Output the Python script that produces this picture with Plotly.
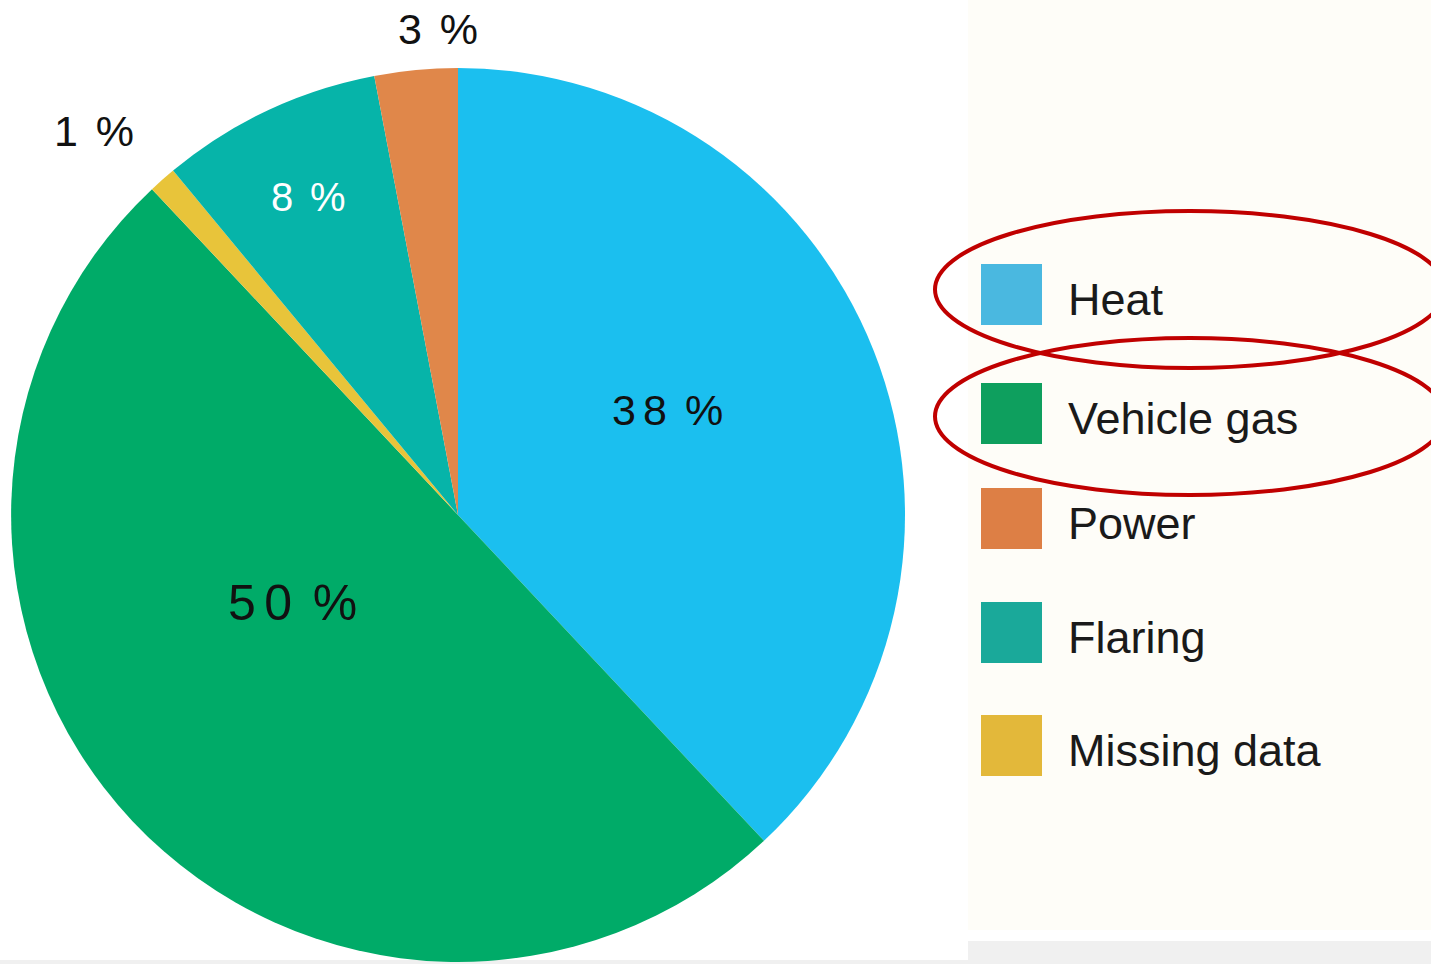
import plotly.graph_objects as go

# slice order (clockwise from 12 o'clock)
slice_labels = ['Heat', 'Vehicle gas', 'Missing data', 'Flaring', 'Power']
slice_values = [38, 50, 1, 8, 3]
slice_colors = ['#1BBFEF', '#00AB68', '#E8C43A', '#06B4A9', '#E0874A']

# legend order as shown in the picture
legend_labels = ['Heat', 'Vehicle gas', 'Power', 'Flaring', 'Missing data']
legend_colors = ['#4AB8E0', '#0E9F5E', '#DD7F45', '#1AA99A', '#E3B83A']

W, H = 1431, 964
FONT = 'Arial, Liberation Sans, sans-serif'

# where each slice's percentage label sits (pixels), its size and colour
label_pos = [(667, 410), (292, 603), (94, 131), (308, 197), (438, 29)]
label_size = [43, 50, 43, 40, 43]
label_color = ['#111111', '#111111', '#111111', '#FFFFFF', '#111111']


def px_x(x):
    return x / W


def px_y(y):
    return 1 - y / H


def pct_text(v):
    # the source uses a loosely spaced "38 %" style
    return '\u2006'.join(str(v)) + '\u2005\u2006%'


fig = go.Figure()

fig.add_trace(go.Pie(
    labels=slice_labels,
    values=slice_values,
    textinfo='none',
    marker=dict(colors=slice_colors, line=dict(width=0)),
    sort=False,
    direction='clockwise',
    rotation=0,
    showlegend=False,
    hoverinfo='label+percent',
    domain=dict(x=[px_x(11), px_x(905)], y=[px_y(962), px_y(68)]),
))

shapes = [
    # light background of the legend panel
    dict(type='rect', xref='paper', yref='paper', layer='below',
         x0=px_x(968), x1=1, y0=px_y(930), y1=1,
         fillcolor='#FEFDF8', line=dict(width=0)),
    dict(type='rect', xref='paper', yref='paper', layer='below',
         x0=px_x(968), x1=1, y0=0, y1=px_y(941),
         fillcolor='#F0F0F0', line=dict(width=0)),
    dict(type='rect', xref='paper', yref='paper', layer='below',
         x0=0, x1=px_x(968), y0=0, y1=px_y(960),
         fillcolor='#F0F0F0', line=dict(width=0)),
]
annotations = []

for v, (x, y), sz, col in zip(slice_values, label_pos, label_size, label_color):
    annotations.append(dict(xref='paper', yref='paper', x=px_x(x), y=px_y(y),
                            xanchor='center', yanchor='middle', showarrow=False,
                            text=pct_text(v),
                            font=dict(family=FONT, size=sz, color=col)))

row_tops = [264, 383, 488, 602, 715]
box = 61
for lab, col, top in zip(legend_labels, legend_colors, row_tops):
    shapes.append(dict(type='rect', xref='paper', yref='paper',
                       x0=px_x(981), x1=px_x(981 + box),
                       y0=px_y(top + box), y1=px_y(top),
                       fillcolor=col, line=dict(width=0)))
    annotations.append(dict(xref='paper', yref='paper',
                            x=px_x(1066), y=px_y(top + box / 2 + 5),
                            xanchor='left', yanchor='middle', showarrow=False,
                            text=lab,
                            font=dict(family=FONT, size=45, color='#1A1A1A')))

# red highlight ellipses around Heat and Vehicle gas
for top, bottom in [(211, 368), (338, 495)]:
    shapes.append(dict(type='circle', xref='paper', yref='paper',
                       x0=px_x(935), x1=px_x(1445),
                       y0=px_y(bottom), y1=px_y(top),
                       line=dict(color='#C00000', width=4)))

fig.update_layout(
    width=W,
    height=H,
    margin=dict(l=0, r=0, t=0, b=0),
    paper_bgcolor='#FFFFFF',
    plot_bgcolor='#FFFFFF',
    shapes=shapes,
    annotations=annotations,
    showlegend=False,
)

fig.write_html('out.html',
               config={'displayModeBar': False},
               post_script="document.body.style.margin='0';"
                           "document.body.style.overflow='hidden';")
